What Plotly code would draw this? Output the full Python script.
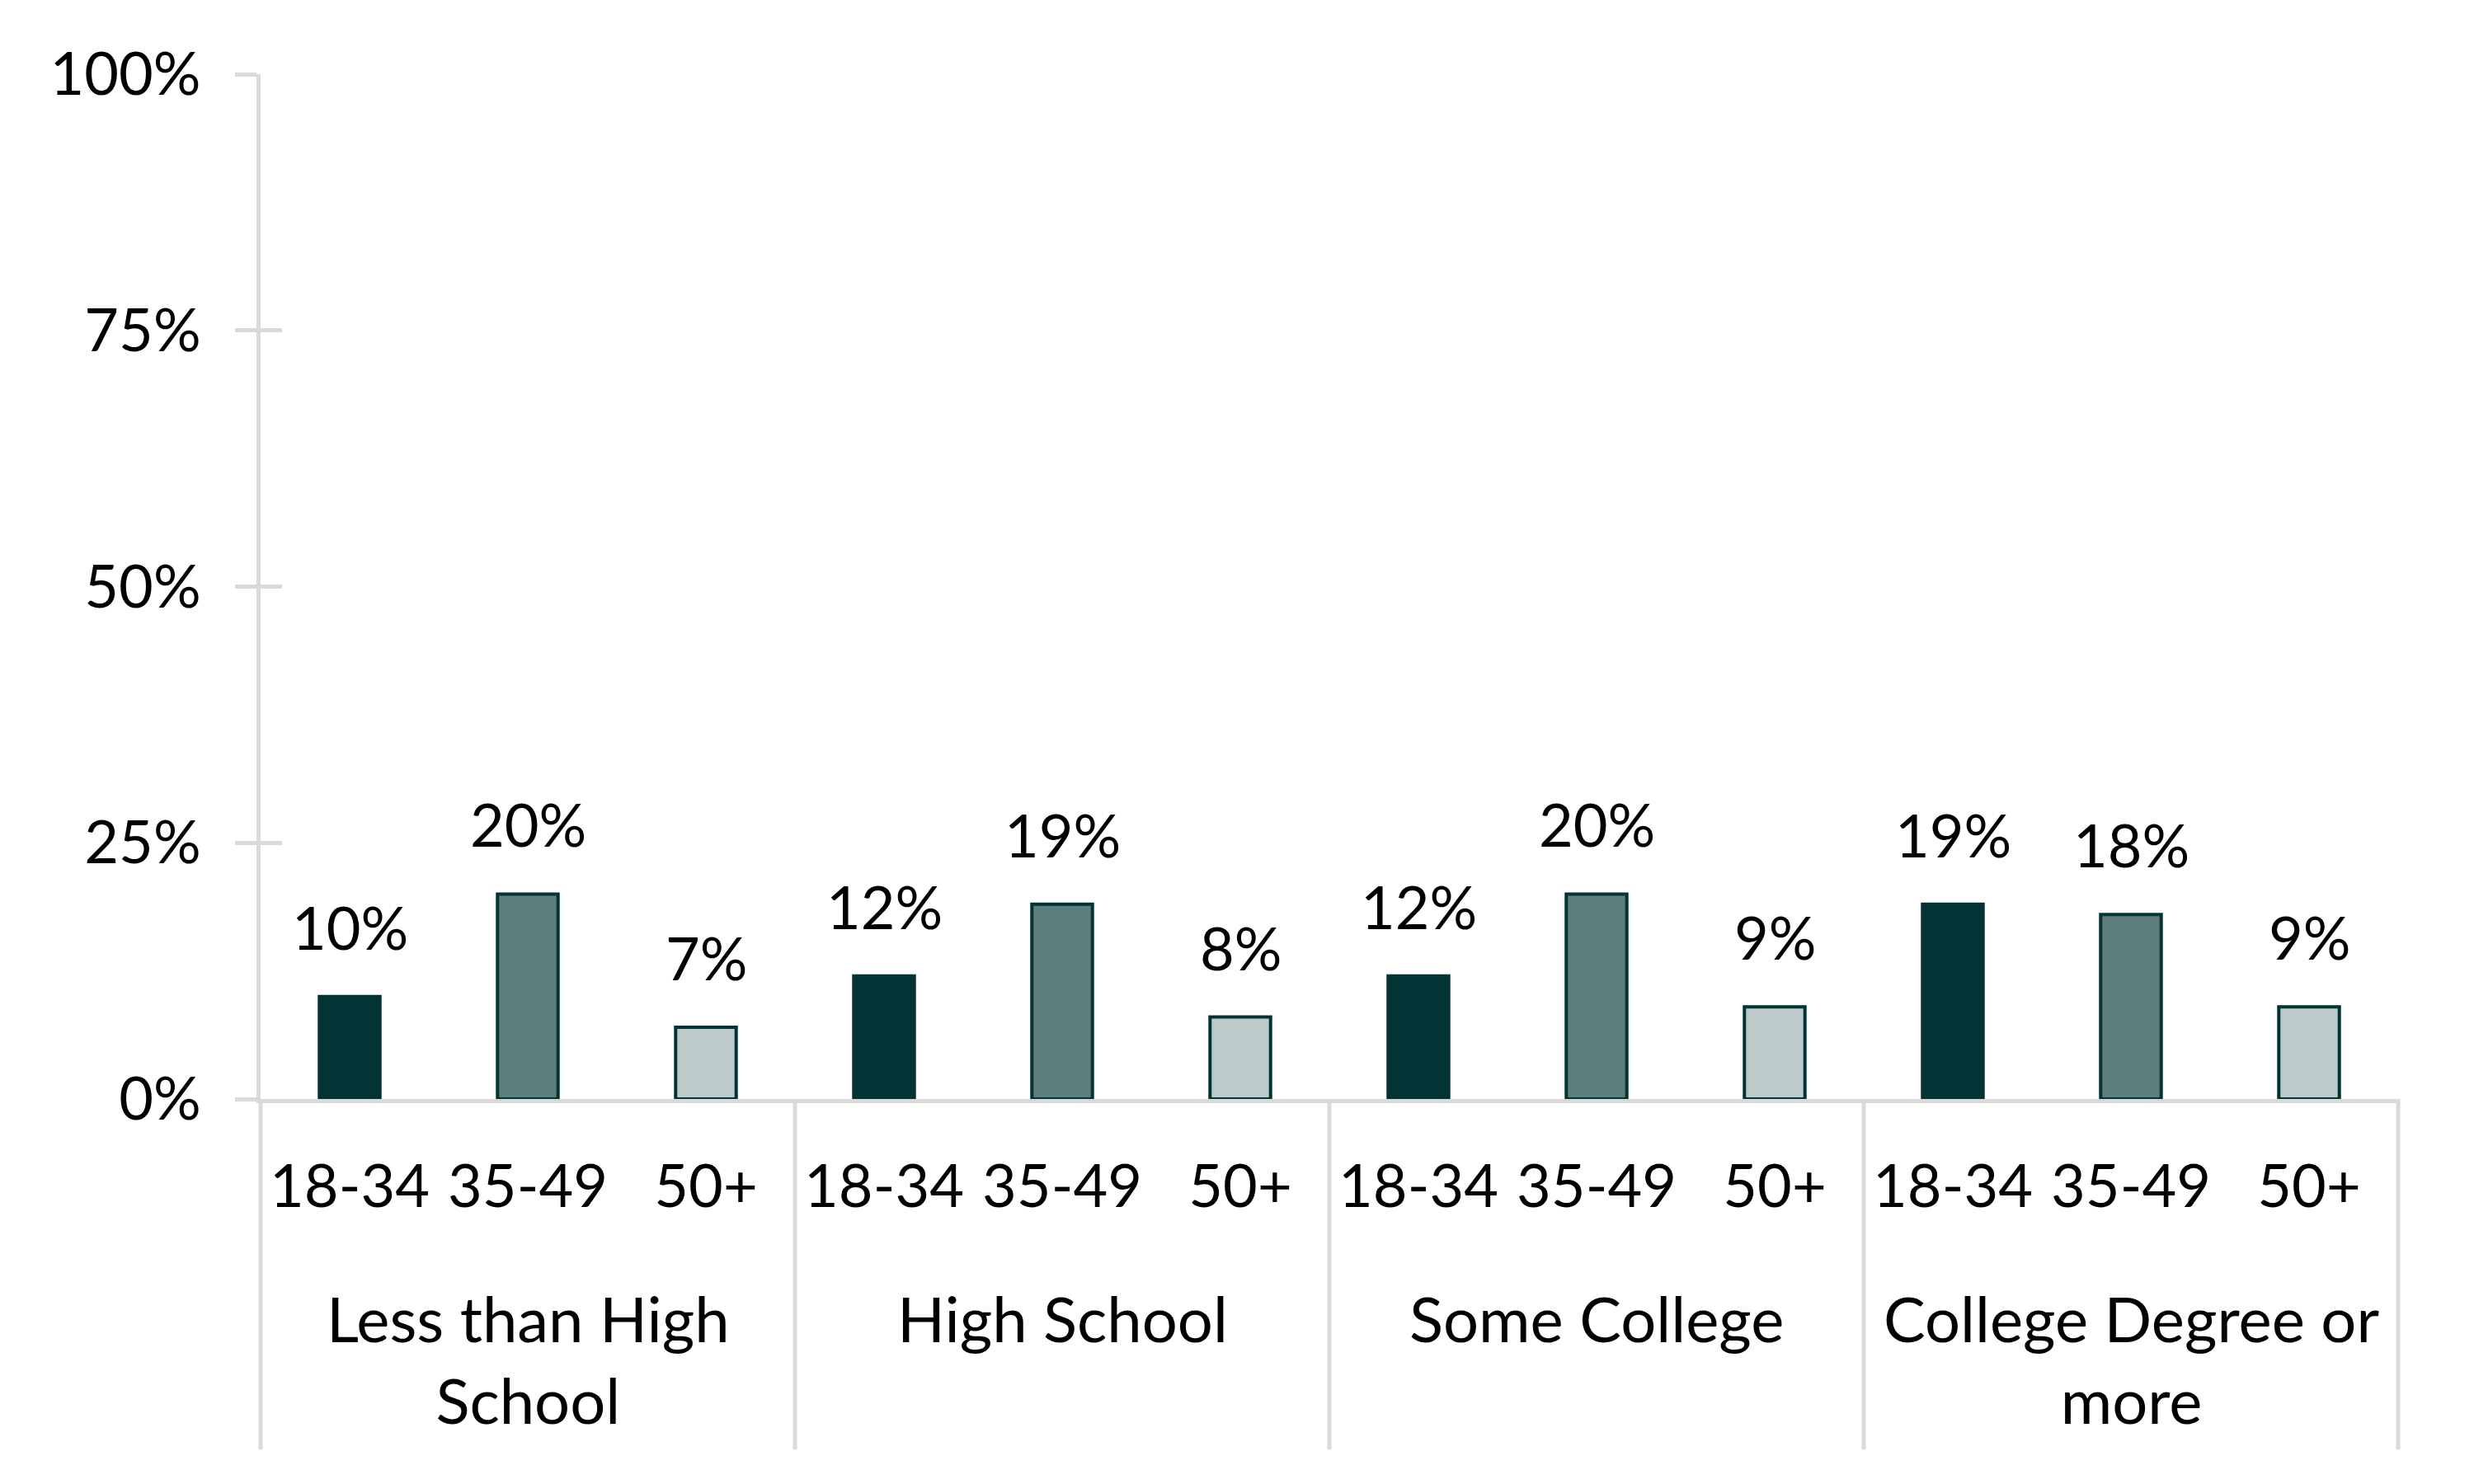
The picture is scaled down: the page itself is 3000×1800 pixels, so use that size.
import plotly.graph_objects as go

groups = ["Less than High School", "High School", "Some College", "College Degree or more"]
group_labels = ["Less than High<br>School", "High School", "Some College", "College Degree or<br>more"]
ages = ["18-34", "35-49", "50+"]
age_18_34 = [10, 12, 12, 19]
age_35_49 = [20, 19, 20, 18]
age_50_plus = [7, 8, 9, 9]
y_ticks = [0, 25, 50, 75, 100]
y_tick_text = ["0%", "25%", "50%", "75%", "100%"]

series = [age_18_34, age_35_49, age_50_plus]
fills = ["#023436", "#5C7F7E", "#BCCBCA"]
borders = ["#023436", "#023436", "#023436"]

FONT = "Lato"
FS = 72
GFS = 76
AXC = "#D9D9D9"

cats = [f"{g}|{a}" for g in groups for a in ages]

fig = go.Figure()
annotations = []
for ai, (age, vals) in enumerate(zip(ages, series)):
    xs = [f"{g}|{age}" for g in groups]
    fig.add_trace(go.Bar(
        x=xs, y=vals, name=age, width=0.34,
        marker=dict(color=fills[ai], line=dict(color=borders[ai], width=4)),
        showlegend=False, hoverinfo="skip",
    ))
    for x, v in zip(xs, vals):
        annotations.append(dict(
            x=x, y=v, xref="x", yref="y", text=f"{v}%", showarrow=False,
            yanchor="bottom", yshift=40,
            font=dict(family=FONT, size=FS, color="#000000"),
        ))

# empty helper trace so the overlaying axis (inside tick marks) is drawn
fig.add_trace(go.Scatter(x=[], y=[], yaxis="y2", showlegend=False, hoverinfo="skip"))

# group labels below the age labels
for gi, gl in enumerate(group_labels):
    annotations.append(dict(
        x=f"{groups[gi]}|{ages[1]}", y=-0.175, xref="x", yref="paper",
        text=gl, showarrow=False, yanchor="top",
        font=dict(family=FONT, size=GFS, color="#000000"),
    ))

# group divider lines
shapes = []
n = len(groups)
for k in range(n + 1):
    shapes.append(dict(
        type="line", xref="paper", yref="paper", x0=k / n, x1=k / n,
        y0=0, y1=-0.342, line=dict(color=AXC, width=5),
    ))

fig.update_layout(
    width=3000, height=1800,
    margin=dict(l=308, r=100, t=82, b=475),
    paper_bgcolor="white", plot_bgcolor="white",
    barmode="overlay",
    font=dict(family=FONT, size=FS, color="#000000"),
    annotations=annotations,
    shapes=shapes,
    xaxis=dict(
        type="category", categoryorder="array", categoryarray=cats,
        tickvals=cats, ticktext=[a for g in groups for a in ages],
        range=[-0.5, len(cats) - 0.5],
        showline=True, linecolor=AXC, linewidth=5,
        ticks="", showgrid=False, zeroline=False,
        tickfont=dict(family=FONT, size=FS, color="#000000"),
        ticklabelstandoff=40,
    ),
    yaxis=dict(
        range=[0, 100], tickvals=y_ticks, ticktext=y_tick_text,
        showline=True, linecolor=AXC, linewidth=5,
        ticks="outside", ticklen=26, tickwidth=5, tickcolor=AXC,
        showgrid=False, zeroline=False,
        tickfont=dict(family=FONT, size=FS, color="#000000"),
        ticklabelstandoff=27,
    ),
    yaxis2=dict(
        range=[0, 100], tickvals=y_ticks, overlaying="y", side="left",
        showline=False, ticks="inside", ticklen=26, tickwidth=5, tickcolor=AXC,
        showticklabels=False, showgrid=False, zeroline=False,
    ),
)

fig.write_html("out.html")
